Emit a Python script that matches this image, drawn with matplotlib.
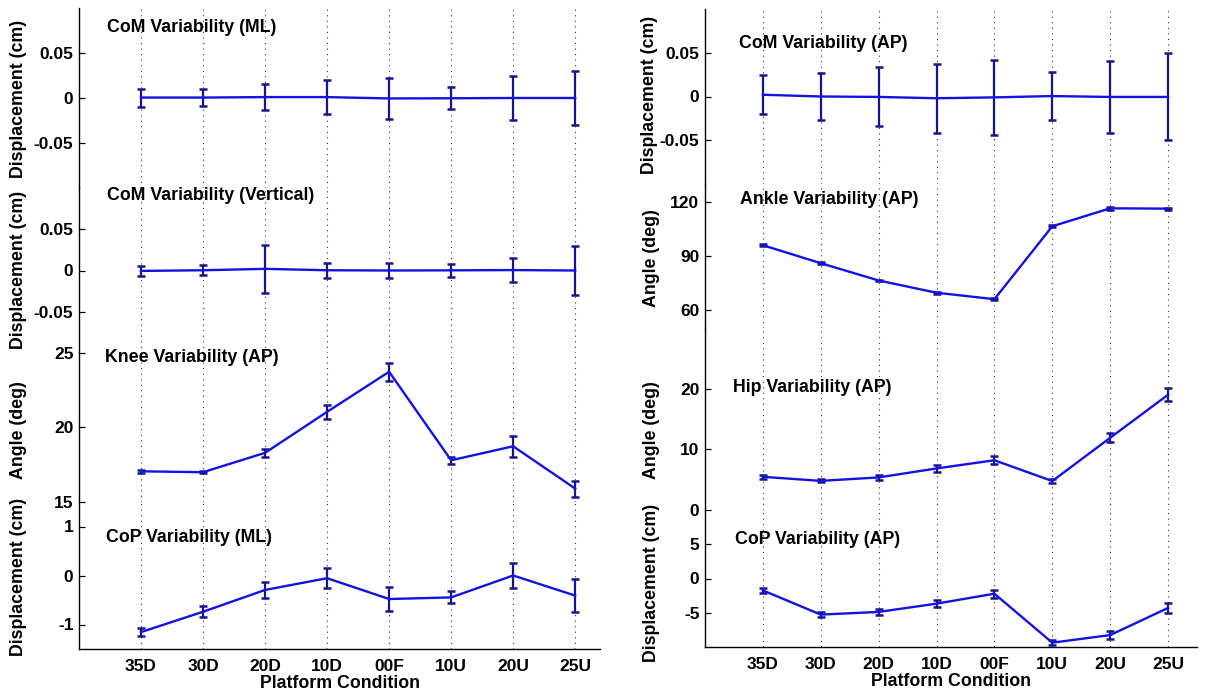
import numpy as np
import matplotlib
matplotlib.use("Agg")
import matplotlib.pyplot as plt

plt.rcParams['font.family'] = ['Liberation Sans', 'DejaVu Sans']
plt.rcParams['font.weight'] = 'bold'

# Platform conditions
conditions = ["35D", "30D", "20D", "10D", "00F", "10U", "20U", "25U"]

# Left column: CoM (ML), CoM (Vertical), Knee (AP), CoP (ML)
com_ml_mean = [0.0005, 0.0005, 0.001, 0.001, -0.0005, -0.0003, 0.0, 0.0]
com_ml_err = [0.010, 0.0098, 0.0148, 0.0193, 0.0226, 0.012, 0.024, 0.030]

com_vert_mean = [-0.0005, 0.0003, 0.002, 0.0003, 0.0, 0.0002, 0.0005, 0.0]
com_vert_err = [0.006, 0.006, 0.029, 0.009, 0.0094, 0.008, 0.0145, 0.030]

knee_mean = [17.06, 17.0, 18.3, 21.05, 23.74, 17.8, 18.74, 15.9]
knee_err = [0.11, 0.08, 0.28, 0.49, 0.62, 0.25, 0.70, 0.54]

cop_ml_mean = [-1.155, -0.74, -0.295, -0.055, -0.48, -0.447, 0.0, -0.41]
cop_ml_err = [0.075, 0.11, 0.155, 0.21, 0.24, 0.124, 0.25, 0.33]

# Right column: CoM (AP), Ankle (AP), Hip (AP), CoP (AP)
com_ap_mean = [0.002, 0.0, -0.0005, -0.002, -0.001, 0.0005, -0.0005, -0.0005]
com_ap_err = [0.022, 0.0265, 0.0337, 0.0396, 0.043, 0.027, 0.041, 0.0497]

ankle_mean = [96.0, 86.0, 76.4, 69.6, 66.0, 106.5, 116.5, 116.3]
ankle_err = [0.5, 0.5, 0.5, 0.6, 0.6, 0.6, 0.7, 0.6]

hip_mean = [5.47, 4.8, 5.37, 6.85, 8.2, 4.77, 11.9, 19.0]
hip_err = [0.3, 0.25, 0.35, 0.63, 0.65, 0.4, 0.74, 1.07]

cop_ap_mean = [-1.74, -5.27, -4.88, -3.67, -2.22, -9.37, -8.26, -4.3]
cop_ap_err = [0.39, 0.34, 0.48, 0.53, 0.58, 0.36, 0.63, 0.72]

W, H = 1215, 693
fig = plt.figure(figsize=(W / 100, H / 100), dpi=100)
FS = 12.8
TICK_FS = 12.5
LINE_C = "#1212e6"
ERR_C = "#16168c"
x = np.arange(1, len(conditions) + 1)


def add_axes_px(left, top, right, bottom):
    return fig.add_axes([left / W, 1 - bottom / H, (right - left) / W, (bottom - top) / H])


def text_px(px, py, s, **kw):
    fig.text(px / W, 1 - py / H, s, fontsize=FS, fontweight='bold', **kw)


def panel(box, mean, err, ylim, yticks, title, title_pos, ylabel, ylabel_pos,
          xmax, bottom=False):
    ax = add_axes_px(*box)
    ax.errorbar(x, mean, yerr=err, color=LINE_C, ecolor=ERR_C, lw=1.7,
                elinewidth=1.6, capsize=3.2, capthick=1.8, zorder=3)
    ax.set_xlim(0, xmax)
    ax.set_ylim(*ylim)
    ax.set_yticks(yticks)
    ax.set_yticklabels([("%g" % t) for t in yticks], fontsize=TICK_FS, fontweight='bold')
    ax.patch.set_alpha(0)
    for s in ("top", "right"):
        ax.spines[s].set_visible(False)
    ax.spines["left"].set_linewidth(1.0)
    ax.spines["left"].set_capstyle("projecting")
    ax.tick_params(axis='y', direction='in', length=4.5, width=0.9, pad=4)
    ax.set_xticks(x)
    ax.xaxis.grid(True, linestyle=(0, (1, 4)), color="#333333", lw=0.8)
    if bottom:
        ax.spines["bottom"].set_linewidth(1.0)
        ax.set_xticklabels(conditions, fontsize=TICK_FS, fontweight='bold')
        ax.tick_params(axis='x', direction='in', length=0, pad=7)
        ax.set_xlabel("Platform Condition", fontsize=FS, fontweight='bold', labelpad=1)
    else:
        ax.spines["bottom"].set_visible(False)
        ax.tick_params(axis='x', length=0, labelbottom=False)
    text_px(title_pos[0], title_pos[1], title, ha='left', va='center')
    text_px(ylabel_pos[0], ylabel_pos[1], ylabel, rotation=90, ha='center', va='center')
    return ax


# Left column
LX0, LX1, LXMAX = 79, 600, 8.4
panel((LX0, 8, LX1, 188), com_ml_mean, com_ml_err, (-0.1, 0.1), [-0.05, 0, 0.05],
      "CoM Variability (ML)", (107, 27), "Displacement (cm)", (19, 99), LXMAX)
panel((LX0, 188, LX1, 353), com_vert_mean, com_vert_err, (-0.1, 0.1), [-0.05, 0, 0.05],
      "CoM Variability (Vertical)", (107, 195), "Displacement (cm)", (19, 270), LXMAX)
panel((LX0, 353, LX1, 502), knee_mean, knee_err, (15, 25), [15, 20, 25],
      "Knee Variability (AP)", (105, 357), "Angle (deg)", (19, 430), LXMAX)
panel((LX0, 502, LX1, 649), cop_ml_mean, cop_ml_err, (-1.5, 1.5), [-1, 0, 1],
      "CoP Variability (ML)", (106, 537), "Displacement (cm)", (19, 577), LXMAX,
      bottom=True)

# Right column
RX0, RX1, RXMAX = 705, 1197, 8.5
panel((RX0, 9, RX1, 184), com_ap_mean, com_ap_err, (-0.1, 0.1), [-0.05, 0, 0.05],
      "CoM Variability (AP)", (739, 44), "Displacement (cm)", (650, 95), RXMAX)
panel((RX0, 184, RX1, 328), ankle_mean, ankle_err, (50, 130), [60, 90, 120],
      "Ankle Variability (AP)", (740, 200), "Angle (deg)", (652, 258), RXMAX)
panel((RX0, 328, RX1, 510), hip_mean, hip_err, (0, 30), [0, 10, 20],
      "Hip Variability (AP)", (733, 387), "Angle (deg)", (652, 430), RXMAX)
panel((RX0, 510, RX1, 647), cop_ap_mean, cop_ap_err, (-10, 10), [-5, 0, 5],
      "CoP Variability (AP)", (735, 540), "Displacement (cm)", (652, 583), RXMAX,
      bottom=True)

fig.savefig("out.png", dpi=100)
